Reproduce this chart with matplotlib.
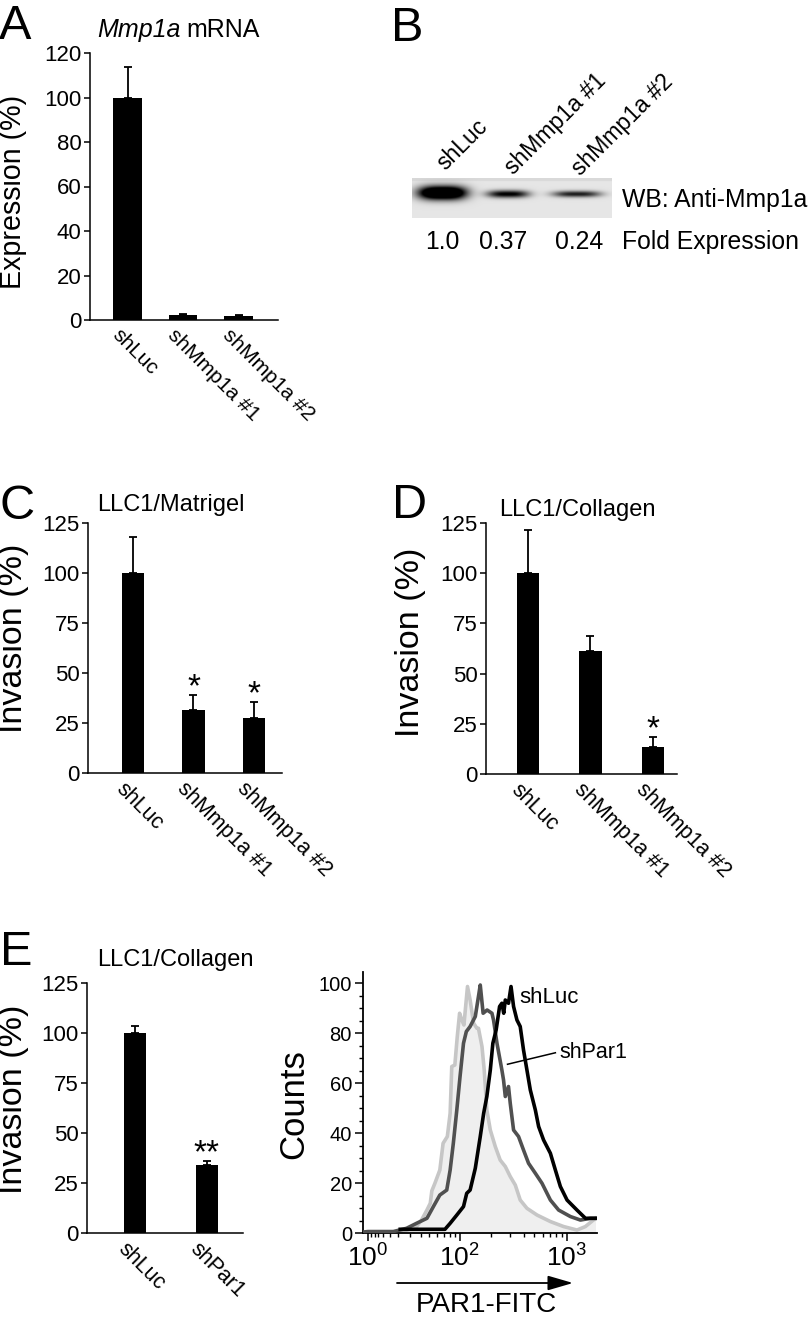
"""Mmp1a / Par1 knockdown figure: bar panels, western blot strip and flow histogram."""

import numpy as np
import matplotlib
matplotlib.use('Agg')
import matplotlib.pyplot as plt

plt.rcParams['font.family'] = ['Liberation Sans', 'DejaVu Sans']
plt.rcParams['mathtext.fontset'] = 'custom'
plt.rcParams['mathtext.rm'] = 'Liberation Sans'
plt.rcParams['mathtext.it'] = 'Liberation Sans:italic'
plt.rcParams['mathtext.bf'] = 'Liberation Sans:bold'

W, H = 812, 1319

# --------------------------------------------------------------------------- #
#  Data                                                 #
# --------------------------------------------------------------------------- #

# A - Mmp1a mRNA
mrna_groups = ['shLuc', 'shMmp1a #1', 'shMmp1a #2']
mrna_mean = [100, 2.2, 1.8]
mrna_err = [13.5, 0.5, 0.4]

# B - western blot
blot_lanes = ['shLuc', 'shMmp1a #1', 'shMmp1a #2']
blot_fold = [1.0, 0.37, 0.24]

# C - LLC1/Matrigel invasion
matrigel_groups = ['shLuc', 'shMmp1a #1', 'shMmp1a #2']
matrigel_mean = [100, 31.5, 27.5]
matrigel_err = [18, 7.5, 8]
matrigel_sig = ['', '*', '*']

# D - LLC1/Collagen invasion
collagen_groups = ['shLuc', 'shMmp1a #1', 'shMmp1a #2']
collagen_mean = [100, 61.5, 13.6]
collagen_err = [21.5, 7, 4.7]
collagen_sig = ['', '', '*']

# E - Par1 knockdown invasion
par1_groups = ['shLuc', 'shPar1']
par1_mean = [100, 33.8]
par1_err = [3.3, 2.2]
par1_sig = ['', '**']

# E - PAR1-FITC flow histogram (counts, % of max)
ctrl_x = [22, 36, 41, 47, 51, 53, 57, 64, 69, 76, 81, 84, 90, 95, 100, 105, 110,
          119, 126, 136, 146, 151, 163, 171, 181, 195, 217, 241, 269, 299, 333,
          370, 427, 530, 704, 933, 1240, 1485, 1840]
ctrl_y = [0.3, 2.7, 5.3, 9.3, 12, 17, 20, 25.3, 36, 38.7, 48, 66.7, 67.3, 78.7,
          88, 85.3, 83.3, 98.7, 93.3, 84, 82, 82, 74.7, 65.3, 49.3, 41.3, 34.7,
          29.3, 26.7, 22.7, 19.3, 13.3, 10, 7.3, 4.7, 2.7, 1.3, 2.7, 6]

par1_kd_x = [-2, 1, 17, 27, 36, 47, 55, 64, 75, 81, 87, 94, 101, 109, 116, 126,
             141, 151, 157, 167, 182, 202, 209, 225, 250, 259, 269, 288, 299, 321,
             357, 397, 442, 511, 589, 704, 839, 1078, 1335, 1652, 1840]
par1_kd_y = [0.5, 0.7, 0.7, 2, 4, 6, 10.7, 15.3, 17.3, 25.3, 36, 49.3, 62.7, 76,
             80.7, 82.7, 86.7, 94.7, 99.3, 88, 89.3, 88, 85.3, 76, 65.3, 61.3,
             54.7, 58.7, 52, 41.3, 38.7, 33.3, 28, 24, 20, 13.3, 9.3, 6.7, 5.3, 6, 6]

luc_x = [22, 72, 81, 94, 109, 117, 126, 141, 157, 169, 181, 195, 206, 221, 238,
         250, 260, 269, 288, 304, 321, 345, 370, 397, 427, 459, 511, 548, 609,
         704, 783, 871, 1004, 1240, 1485, 1840]
luc_y = [1.6, 1.6, 4, 7.3, 10.7, 16, 17.3, 26, 38.7, 48, 54.7, 65.3, 76, 81.3,
         90.7, 92, 88, 93.3, 92, 98.7, 90.7, 85.3, 82.7, 73.3, 65.3, 57.3, 49.3,
         42.7, 37.3, 32, 25.3, 18.7, 13.3, 9.3, 6, 6]

hist_major = [1, 100, 1000]
hist_major_lbl = ['$10^0$', '$10^2$', '$10^3$']
hist_minor = [3, 5, 7, 10, 15, 20, 30, 40, 50, 60, 70, 80, 90,
              200, 300, 400, 500, 600, 700, 800, 900]


# --------------------------------------------------------------------------- #
#  Helpers                                                                    #
# --------------------------------------------------------------------------- #

fig = plt.figure(figsize=(W / 100, H / 100), dpi=100)


def px_axes(left, top, right, bottom):
    return fig.add_axes([left / W, 1 - bottom / H, (right - left) / W, (bottom - top) / H])


def fig_text(x, y, s, **kw):
    return fig.text(x / W, 1 - y / H, s, **kw)


def bar_panel(rect, groups, means, errs, sig, xlim, width, ymax, ystep,
              tick_fs=16, lbl_fs=15.5):
    ax = px_axes(*rect)
    pos = np.arange(len(groups))
    ax.bar(pos, means, width=width, color='black', zorder=2)
    ax.errorbar(pos, means, yerr=[np.zeros(len(means)), errs], fmt='none',
                ecolor='black', elinewidth=1.3, capsize=2.6, capthick=1.3,
                zorder=1, clip_on=False)
    ax.set_xlim(*xlim)
    ax.set_ylim(0, ymax)
    ax.set_yticks(np.arange(0, ymax + 1, ystep))
    ax.set_xticks([])
    for side in ['top', 'right']:
        ax.spines[side].set_visible(False)
    for side in ['left', 'bottom']:
        ax.spines[side].set_linewidth(1.1)
    ax.tick_params(axis='y', length=4, width=1.1, labelsize=tick_fs, pad=2)
    for i, g in enumerate(groups):
        ax.annotate(g, xy=(i, 0), xytext=(-4.3, -4), textcoords='offset points',
                    rotation=-45, rotation_mode='anchor', ha='left', va='top',
                    fontsize=lbl_fs, annotation_clip=False)
    for i, s in enumerate(sig):
        if s:
            ax.annotate(s, xy=(i, means[i] + errs[i]), xytext=(0, -6),
                        textcoords='offset points', ha='center', va='bottom',
                        fontsize=24, annotation_clip=False)
    return ax


# --------------------------------------------------------------------------- #
#  A - Mmp1a mRNA                                                             #
# --------------------------------------------------------------------------- #

bar_panel((90, 53, 278, 320), mrna_groups, mrna_mean, mrna_err, ['', '', ''],
          (-0.676, 2.71), 0.52, 120, 20, tick_fs=16, lbl_fs=15)
fig_text(-1, 4, 'A', fontsize=35, ha='left', va='top')
fig_text(181, 30, 'Mmp1a', fontsize=18, style='italic', ha='right', va='center')
fig_text(186, 30, 'mRNA', fontsize=18, ha='left', va='center')
fig_text(13, 192, 'Expression (%)', fontsize=20.6, rotation=90, ha='center', va='center')

# --------------------------------------------------------------------------- #
#  B - western blot                                                           #
# --------------------------------------------------------------------------- #

ax_b = px_axes(411.7, 178, 611, 218)
ny, nx = 80, 400
yy, xx = np.mgrid[0:1:ny * 1j, 0:1:nx * 1j]
img = np.full((ny, nx), 0.9)
img[:6, :] -= 0.05
lane_cx = [0.152, 0.48, 0.825]
lane_hw = [0.12, 0.105, 0.12]
lane_cy = [0.37, 0.4, 0.4]
for f, cx, hw, cy in zip(blot_fold, lane_cx, lane_hw, lane_cy):
    dark = 0.55 + 1.05 * f
    sy = 0.05 + 0.12 * f
    img -= dark * np.exp(-np.abs((xx - cx) / hw) ** 3) * np.exp(-((yy - cy) / sy) ** 2)
ax_b.imshow(np.clip(img, 0, 1), cmap='gray', vmin=0, vmax=1, aspect='auto',
            interpolation='bilinear')
ax_b.set_axis_off()

fig_text(391, 6, 'B', fontsize=35, ha='left', va='top')
for lbl, x, y in zip(blot_lanes, [445, 513, 580], [171, 175, 176]):
    fig_text(x, y, lbl, fontsize=16.5, rotation=45, rotation_mode='anchor',
             ha='left', va='baseline')
fig_text(622, 200, 'WB: Anti-Mmp1a', fontsize=17.8, ha='left', va='center')
for f, x in zip(blot_fold, [442, 503, 579]):
    fig_text(x, 242, f'{f:.2f}' if f < 1 else f'{f:.1f}', fontsize=17.8,
             ha='center', va='center')
fig_text(622, 242, 'Fold Expression', fontsize=17.8, ha='left', va='center')

# --------------------------------------------------------------------------- #
#  C / D - invasion                                                           #
# --------------------------------------------------------------------------- #

bar_panel((88, 523, 282, 773), matrigel_groups, matrigel_mean, matrigel_err,
          matrigel_sig, (-0.744, 2.463), 0.364, 125, 25)
fig_text(0, 484, 'C', fontsize=35, ha='left', va='top')
fig_text(97, 505, 'LLC1/Matrigel', fontsize=17, ha='left', va='center')
fig_text(14, 638, 'Invasion (%)', fontsize=24.5, rotation=90, ha='center', va='center')

bar_panel((486, 523, 677, 774), collagen_groups, collagen_mean, collagen_err,
          collagen_sig, (-0.672, 2.384), 0.36, 125, 25)
fig_text(392, 483, 'D', fontsize=35, ha='left', va='top')
fig_text(499, 510, 'LLC1/Collagen', fontsize=17, ha='left', va='center')
fig_text(411, 642, 'Invasion (%)', fontsize=24.5, rotation=90, ha='center', va='center')

# --------------------------------------------------------------------------- #
#  E - Par1 invasion + flow histogram                                         #
# --------------------------------------------------------------------------- #

bar_panel((87, 982.7, 243, 1232.7), par1_groups, par1_mean, par1_err,
          par1_sig, (-0.67, 1.506), 0.307, 125, 25)
fig_text(0, 930, 'E', fontsize=35, ha='left', va='top')
fig_text(97, 960, 'LLC1/Collagen', fontsize=17, ha='left', va='center')
fig_text(14, 1099, 'Invasion (%)', fontsize=24.5, rotation=90, ha='center', va='center')

ax_h = px_axes(363, 972, 597, 1233.3)
ax_h.set_xscale('function', functions=(lambda v: np.arcsinh(v / 28.0),
                                       lambda v: 28.0 * np.sinh(v)))
ax_h.fill_between(ctrl_x, ctrl_y, color='#efefef', lw=0, zorder=1)
ax_h.plot(ctrl_x, ctrl_y, color='#c6c6c6', lw=2.6, zorder=2)
ax_h.plot(par1_kd_x, par1_kd_y, color='#505050', lw=2.6, zorder=3)
ax_h.plot(luc_x, luc_y, color='black', lw=2.6, zorder=4)
ax_h.set_xlim(-2, 1900)
ax_h.set_ylim(0, 104.5)
ax_h.set_xticks(hist_major)
ax_h.set_xticklabels(hist_major_lbl, fontsize=19)
ax_h.set_xticks(hist_minor, minor=True)
ax_h.set_yticks(np.arange(0, 101, 20))
ax_h.set_yticks(np.arange(0, 101, 5), minor=True)
ax_h.tick_params(axis='y', which='major', length=6, width=1.1, labelsize=14.5, pad=2)
ax_h.tick_params(axis='y', which='minor', length=3, width=1.0)
ax_h.tick_params(axis='x', which='major', length=6, width=1.1, pad=2)
ax_h.tick_params(axis='x', which='minor', length=3, width=1.0)
for side in ['top', 'right']:
    ax_h.spines[side].set_visible(False)
for side in ['left', 'bottom']:
    ax_h.spines[side].set_linewidth(1.3)

ax_h.text(365, 94.5, 'shLuc', fontsize=16, ha='left', va='center')
ax_h.text(857, 72.5, 'shPar1', fontsize=15.5, ha='left', va='center')
ax_h.plot([282, 783], [67.6, 72.2], color='black', lw=1.1, zorder=5)

fig_text(294, 1104, 'Counts', fontsize=25, rotation=90, ha='center', va='center')
ax_h.annotate('', xy=(573 / W, 1 - 1283 / H), xytext=(397 / W, 1 - 1283 / H),
              xycoords='figure fraction', textcoords='figure fraction',
              arrowprops=dict(arrowstyle='-|>,head_length=1.1,head_width=0.32',
                              color='black', lw=1.3, mutation_scale=14,
                              shrinkA=0, shrinkB=0))
fig_text(486, 1305, 'PAR1-FITC', fontsize=20, ha='center', va='center')

fig.savefig('out.png', dpi=100)
plt.close(fig)
